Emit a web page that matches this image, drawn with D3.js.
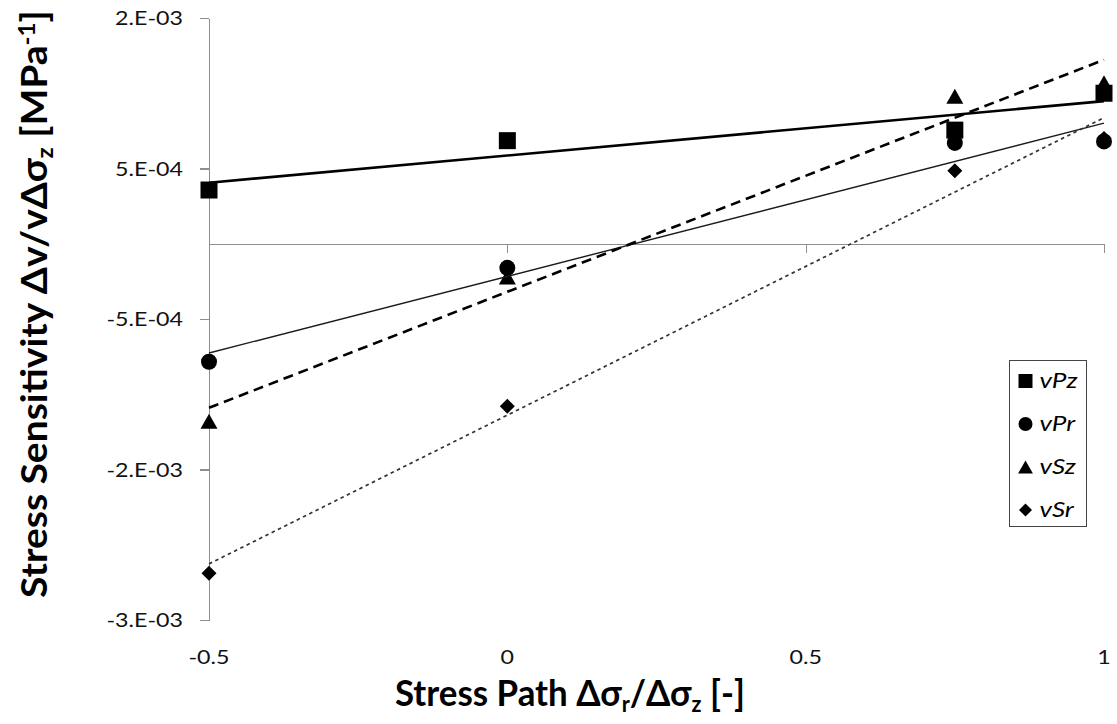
<!DOCTYPE html>
<html>
<head>
<meta charset="utf-8">
<script src="https://cdn.jsdelivr.net/npm/d3@7"></script>
<style>
  body { margin: 0; background: #fff; }
  svg { display: block; }
  .tick-label { font-family: Lato, "Open Sans", sans-serif; font-size: 19px; fill: #111; }
  .axis-title { font-family: Lato, "Open Sans", sans-serif; font-size: 36px; font-weight: bold; fill: #000; }
  .legend-label { font-family: Lato, "Open Sans", sans-serif; font-size: 21px; font-style: italic; fill: #000; }
</style>
</head>
<body>
<svg id="chart" width="1117" height="724"></svg>
<script>
// Stress path ratio (radial / axial stress increment) for each test
const stressPath = [-0.5, 0, 0.75, 1];

// Stress sensitivity of each velocity, per MPa
const seriesNames = ["vPz", "vPr", "vSz", "vSr"];
const vPz = [3.57e-4, 6.85e-4, 7.55e-4, 1.0e-3];
const vPr = [-7.84e-4, -1.6e-4, 6.7e-4, 6.8e-4];
const vSz = [-1.18e-3, -2.2e-4, 9.8e-4, 1.07e-3];
const vSr = [-2.19e-3, -1.08e-3, 4.85e-4, 7.0e-4];

// Axis ticks and their printed labels
const xTicks = [-0.5, 0, 0.5, 1];
const xTickLabels = ["-0.5", "0", "0.5", "1"];
const yTicks = [1.5e-3, 5e-4, -5e-4, -1.5e-3, -2.5e-3];
const yTickLabels = ["2.E-03", "5.E-04", "-5.E-04", "-2.E-03", "-3.E-03"];

const svg = d3.select("#chart");
const axisColor = "#8e8e8e";

const x = d3.scaleLinear().domain([-0.5, 1]).range([209, 1104]);
const y = d3.scaleLinear().domain([-2.5e-3, 1.5e-3]).range([620, 18]);

// ---- axes ----
const yAxis = svg.append("g")
  .attr("transform", `translate(${x(-0.5)},0)`)
  .call(d3.axisLeft(y).tickValues(yTicks).tickSize(9).tickSizeOuter(0).tickFormat(""));
const xAxis = svg.append("g")
  .attr("transform", `translate(0,${y(0)})`)
  .call(d3.axisBottom(x).tickValues(xTicks).tickSize(9).tickSizeOuter(0).tickFormat(""));
[xAxis, yAxis].forEach(g => {
  g.selectAll("path, line").attr("stroke", axisColor).attr("stroke-width", 1.2).attr("shape-rendering", "crispEdges");
});

// Width of a plain label at the CSS size, used to set a horizontal stretch
function measure(cls, str) {
  const t = svg.append("text").attr("class", cls).text(str);
  const w = t.node().getComputedTextLength();
  t.remove();
  return w;
}
const tickStretch = 68 / measure("tick-label", "2.E-03");

yTicks.forEach((v, i) => {
  svg.append("text").attr("class", "tick-label")
    .attr("text-anchor", "end")
    .attr("transform", `translate(183,${y(v) + 7}) scale(${tickStretch},1)`)
    .text(yTickLabels[i]);
});
xTicks.forEach((v, i) => {
  svg.append("text").attr("class", "tick-label")
    .attr("text-anchor", "middle")
    .attr("transform", `translate(${x(v)},664) scale(${tickStretch},1)`)
    .text(xTickLabels[i]);
});

// ---- axis titles ----
function richText(parent, parts) {
  const t = parent.append("text").attr("class", "axis-title");
  parts.forEach(p => {
    const s = t.append("tspan").text(p.t);
    if (p.sub) s.attr("font-size", "0.62em").attr("dy", "0.28em");
    if (p.sup) s.attr("font-size", "0.62em").attr("dy", "-0.55em");
    if (p.back) s.attr("dy", p.back);
  });
  return t;
}
const xTitle = richText(svg, [
  { t: "Stress Path Δσ" }, { t: "r", sub: true },
  { t: "/Δσ", back: "-0.174em" }, { t: "z", sub: true },
  { t: " [-]", back: "-0.174em" }
]);
const xTitleStretch = 350 / xTitle.node().getBBox().width;
xTitle.attr("transform", `translate(395,706) scale(${xTitleStretch},1)`);

const yTitle = richText(svg, [
  { t: "Stress Sensitivity Δv/vΔσ" }, { t: "z", sub: true },
  { t: " [MPa", back: "-0.174em" }, { t: "-1", sup: true },
  { t: "]", back: "0.341em" }
]);
const yTitleStretch = 588 / yTitle.node().getBBox().width;
yTitle.attr("transform", `translate(47,598) rotate(-90) scale(${yTitleStretch},1)`);

// ---- markers ----
const markerPath = {
  square: s => `M${-s / 2},${-s / 2}h${s}v${s}h${-s}Z`,
  circle: s => d3.symbol(d3.symbolCircle, Math.PI * s * s / 4)(),
  triangle: s => `M0,${-s * 0.47}L${s * 0.53},${s * 0.47}L${-s * 0.53},${s * 0.47}Z`,
  diamond: s => `M0,${-s / 2}L${s / 2},0L0,${s / 2}L${-s / 2},0Z`
};

const series = [
  { name: seriesNames[0], values: vPz, shape: "square", size: 17, stroke: "#000", width: 2.6, dash: null },
  { name: seriesNames[1], values: vPr, shape: "circle", size: 16, stroke: "#1a1a1a", width: 1.4, dash: null },
  { name: seriesNames[2], values: vSz, shape: "triangle", size: 16, stroke: "#000", width: 2.6, dash: "10,6" },
  { name: seriesNames[3], values: vSr, shape: "diamond", size: 15, stroke: "#333", width: 1.7, dash: "3.5,3.5" }
];

// Least-squares linear trend through each series
function linearFit(xs, ys) {
  const mx = d3.mean(xs), my = d3.mean(ys);
  let sxy = 0, sxx = 0;
  xs.forEach((xv, i) => { sxy += (xv - mx) * (ys[i] - my); sxx += (xv - mx) ** 2; });
  const slope = sxy / sxx;
  return xv => my + slope * (xv - mx);
}

const line = d3.line().x(d => x(d[0])).y(d => y(d[1]));
const plot = svg.append("g");

series.forEach(s => {
  plot.selectAll(null)
    .data(stressPath.map((xv, i) => [xv, s.values[i]]))
    .join("path")
    .attr("d", markerPath[s.shape](s.size))
    .attr("transform", d => `translate(${x(d[0])},${y(d[1])})`)
    .attr("fill", "#000");
});

series.forEach(s => {
  const fit = linearFit(stressPath, s.values);
  const ends = x.domain().map(xv => [xv, fit(xv)]);
  plot.append("path")
    .attr("d", line(ends))
    .attr("fill", "none")
    .attr("stroke", s.stroke)
    .attr("stroke-width", s.width)
    .attr("stroke-dasharray", s.dash);
});

// ---- legend ----
const legend = svg.append("g").attr("transform", "translate(1009.5,360.5)");
legend.append("rect")
  .attr("width", 77).attr("height", 166)
  .attr("fill", "#fff").attr("stroke", "#444").attr("stroke-width", 1);
const legendStretch = 38 / measure("legend-label", "vPz");
series.forEach((s, i) => {
  const row = legend.append("g").attr("transform", `translate(16,${20.5 + i * 43})`);
  row.append("path")
    .attr("d", markerPath[s.shape](s.shape === "diamond" ? 13 : 14))
    .attr("fill", "#000");
  row.append("text").attr("class", "legend-label")
    .attr("transform", `translate(14,7) scale(${legendStretch},1)`)
    .text(s.name);
});
</script>
</body>
</html>
